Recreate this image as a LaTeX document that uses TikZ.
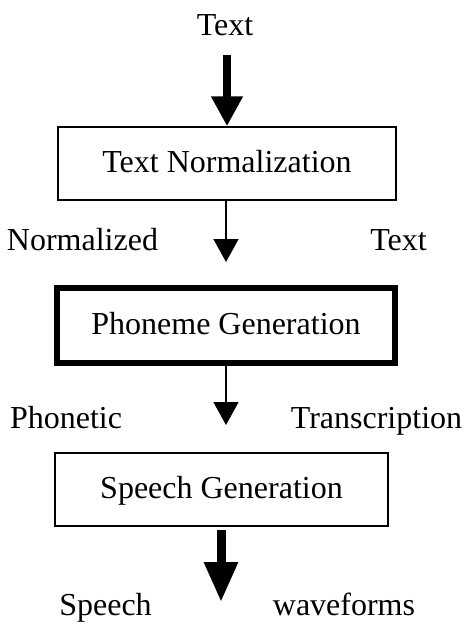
\documentclass[tikz,border=0pt]{standalone}
\usepackage{fontspec}
\setmainfont{Liberation Serif}
\usetikzlibrary{arrows.meta}
\begin{document}
\begin{tikzpicture}[x=1pt,y=-1pt,
  lbl/.style={inner sep=0pt,anchor=base,font=\fontsize{32}{38}\selectfont},
  box/.style={draw,inner sep=0pt,font=\fontsize{32}{38}\selectfont,text depth=4pt},
  thinarrow/.style={line width=1.6pt,-{Triangle[length=23pt,width=25pt]}},
  bigarrow/.style={line width=8pt,-{Triangle[length=30pt,width=30pt]}}
]
\useasboundingbox (0,0) rectangle (465,625);
\node[lbl] (in) at (225,35) {Text};
\coordinate (s1) at (227,55);
\node[box,line width=1.5pt,minimum width=338pt,minimum height=73pt] (b1) at (227,163.5) {Text Normalization};
\node[box,line width=6pt,minimum width=338pt,minimum height=75pt] (b2) at (226,325.5) {Phoneme Generation};
\node[box,line width=1.5pt,minimum width=333pt,minimum height=73pt] (b3) at (221.5,489.5) {Speech Generation};
\coordinate (e2) at (226,262);
\coordinate (e3) at (226,425);
\coordinate (s4) at (221,530);
\coordinate (e4) at (221,602);
\node[lbl] (n1) at (82.5,250) {Normalized};
\node[lbl] (n2) at (398.5,250) {Text};
\node[lbl] (p1) at (66,428) {Phonetic};
\node[lbl] (p2) at (376.5,428) {Transcription};
\node[lbl] (w1) at (105.5,615) {Speech};
\node[lbl] (w2) at (344,615) {waveforms};
\draw[bigarrow] (s1) -- (b1.north -| s1);
\draw[thinarrow] (b1.south -| e2) -- (e2);
\draw[thinarrow] (b2.south -| e3) -- (e3);
\draw[bigarrow,line width=9pt,-{Triangle[length=40pt,width=32pt]}] (s4) -- (e4);
\end{tikzpicture}
\end{document}
